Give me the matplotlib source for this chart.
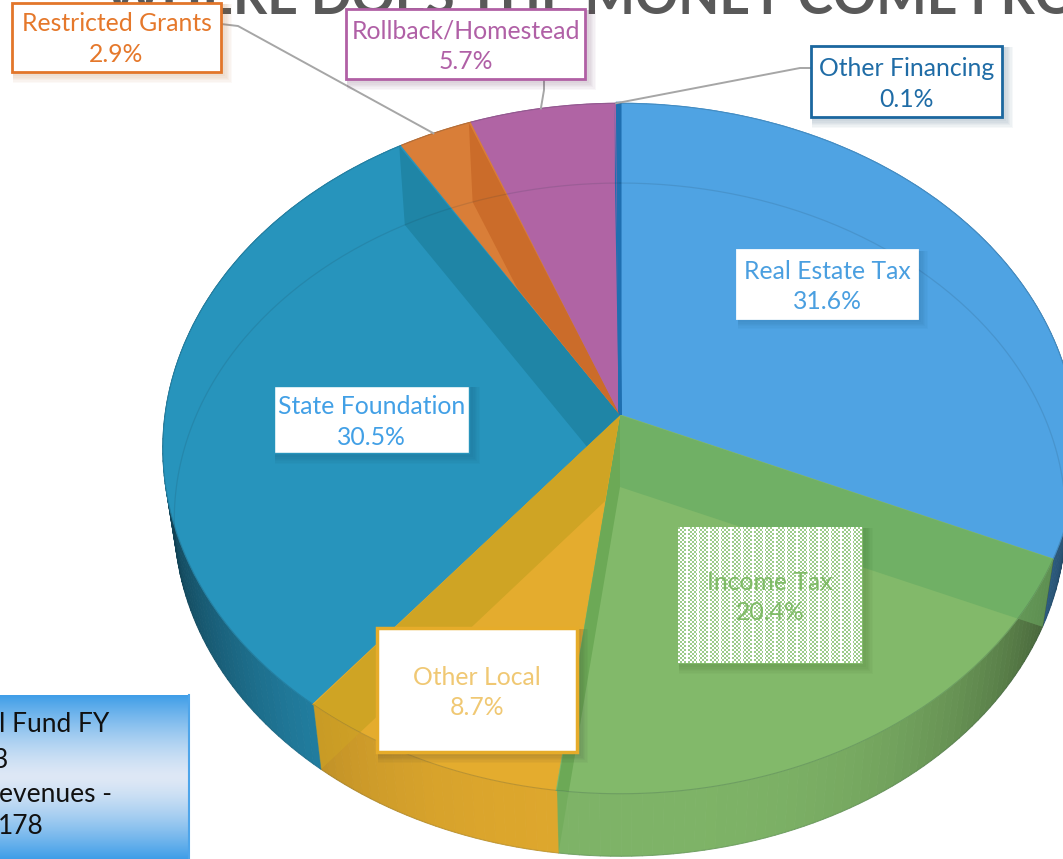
import numpy as np
import matplotlib
matplotlib.use("Agg")
import matplotlib.pyplot as plt
from matplotlib.transforms import Transform
from matplotlib.patches import Rectangle
from matplotlib.collections import PolyCollection
from matplotlib.colors import to_rgb

categories = ["Real Estate Tax", "Income Tax", "Other Local", "State Foundation",
              "Restricted Grants", "Rollback/Homestead", "Other Financing"]
shares = [31.6, 20.4, 8.7, 30.5, 2.9, 5.7, 0.1]
slice_colors = ["#4FA3E3", "#82B96A", "#E4AC2E", "#2794BC", "#D97E38", "#B064A4", "#1F6FB0"]
cut_colors = ["#70B065", "#6CA956", "#CFA424", "#1F85A6", "#CB6C2A", "#1F6FB0", "#1F6FB0"]
cut_owner = [1, 1, 2, 3, 4, 5, 5]
label_colors = ["#4A9FE0", "#7FBB66", "#F0C873", "#42A0E6", "#E5782B", "#B060A6", "#1F6CA6"]
title_text = "WHERE DOES THE MONEY COME FROM?"
legend_fragments = ["l Fund FY", "3", "evenues -", "178"]

LABEL_SIZE = 17.8
plt.rcParams['font.family'] = ['Lato', 'DejaVu Sans']


class Persp(Transform):
    input_dims = output_dims = 2
    is_separable = False
    has_inverse = False

    def __init__(self, cx, cy, a, b, k):
        super().__init__()
        self.p = (cx, cy, a, b, k)

    def transform_non_affine(self, xy):
        xy = np.asarray(xy, float)
        cx, cy, a, b, k = self.p
        d = 1 + k * xy[:, 1]
        return np.column_stack([cx + a * xy[:, 0] / d, cy - b * xy[:, 1] / d])


top_t = Persp(620, 415, 455, 342, 0.097)
low_t = Persp(620, 487, 455 * 0.975, 342 * 0.975, 0.097)

fig = plt.figure(figsize=(10.63, 8.59), dpi=100)
ax = fig.add_axes([0, 0, 1, 1])


def unit(pct):
    ang = np.deg2rad(np.asarray(pct) * 3.6)
    return np.column_stack([np.sin(ang), np.cos(ang)])


bounds = np.concatenate([[0], np.cumsum(shares)])

# outer side walls
polys, cols = [], []
for i, c in enumerate(slice_colors):
    base = np.array(to_rgb(c))
    ps = np.linspace(bounds[i], bounds[i + 1], max(int(shares[i] * 3), 2))
    uv = unit(ps)
    a, b = top_t.transform_non_affine(uv), low_t.transform_non_affine(uv)
    for j in range(len(ps) - 1):
        polys.append([a[j], a[j + 1], b[j + 1], b[j]])
        f = 0.97 * (1 - 0.55 * abs(uv[j, 0]) ** 3)
        cols.append(tuple(base * f))
ax.add_collection(PolyCollection(polys, facecolors=cols, edgecolors=cols, linewidths=0.6, zorder=2))

# top surface
top_wedges, _ = ax.pie(shares, startangle=90, counterclock=False, colors=slice_colors)
for w, c in zip(top_wedges, slice_colors):
    w.set_transform(top_t + ax.transData)
    w.set_zorder(3)
    w.set_edgecolor(c)
    w.set_linewidth(2.2 if c == slice_colors[-1] else 0.8)

# cut faces: seen through each slice's surface, and darkening the wall in front of it
origin = np.array([[0.0, 0.0]])
for i, c in enumerate(cut_colors):
    uv = unit([bounds[i + 1]])
    quad = np.vstack([top_t.transform_non_affine(origin), top_t.transform_non_affine(uv),
                      low_t.transform_non_affine(uv), low_t.transform_non_affine(origin)])
    ax.fill(quad[:, 0], quad[:, 1], color=c, lw=0, alpha=0.55, zorder=2.5)
    over, = ax.fill(quad[:, 0], quad[:, 1], color=c, lw=0, zorder=4)
    over.set_clip_path(top_wedges[cut_owner[i]])

# lower disc rim seen through the surface
rim = low_t.transform_non_affine(unit(np.linspace(0, 100, 361)))
ax.plot(rim[:, 0], rim[:, 1], color=(0.1, 0.2, 0.25, 0.13), lw=0.9, zorder=4.2)
edge = top_t.transform_non_affine(unit(np.linspace(0, 100, 361)))
ax.plot(edge[:, 0], edge[:, 1], color=(0.1, 0.2, 0.25, 0.2), lw=0.8, zorder=4.3)

# title
ax.text(105, 14, title_text, fontsize=38.5, fontweight='bold', color='#595959',
        ha='left', va='baseline', zorder=1, clip_on=True)


def box(x0, y0, x1, y1, text, color, edge, lw=2.0, z=6, shadow='#333333', pattern=False, ty=None):
    for g in range(1, 7):
        ax.add_patch(Rectangle((x0 + 1, y0 + 1), x1 - x0 + g * 1.3 + 2, y1 - y0 + g * 1.3 + 2,
                               fc=shadow, ec='none', alpha=0.035, zorder=z))
    ax.add_patch(Rectangle((x0, y0), x1 - x0, y1 - y0, fc='white', ec=edge, lw=lw, zorder=z + 0.1))
    if pattern:
        h, w = int(y1 - y0), int(x1 - x0)
        yy, xx = np.mgrid[0:h, 0:w]
        on = ((xx // 2 + yy // 2) % 2 == 0) & (xx % 11 != 8) & (xx % 11 != 9)
        tile = np.ones((h, w, 3))
        tile[on] = to_rgb('#9CCB8A')
        ax.imshow(tile, extent=(x0, x1, y1, y0), aspect='auto', interpolation='nearest', zorder=z + 0.2)
    cy = (y0 + y1) / 2 if ty is None else ty
    ax.text((x0 + x1) / 2, cy + 2.5, text, ha='center', va='center',
            color=color, fontsize=LABEL_SIZE, linespacing=1.4, zorder=z + 0.3)


def lab(i):
    return f"{categories[i]}\n{shares[i]:.1f}%"


def mid(i):
    return top_t.transform_non_affine(unit([(bounds[i] + bounds[i + 1]) / 2]))[0]


# leader lines
for i, head in [(4, [(221, 24), (238, 26)]), (5, [(544, 79), (544, 90)]), (6, [(810, 68), (800, 68)])]:
    m = mid(i)
    ax.plot([p[0] for p in head] + [m[0]], [p[1] for p in head] + [m[1]],
            color='#A6A6A6', lw=1.4, zorder=5)

box(737, 250, 917, 318, lab(0), label_colors[0], 'white', shadow='#16507a')
box(678, 527, 862, 663, lab(1), label_colors[1], '#82B96A', lw=0.8, shadow='#2e5a20', pattern=True)
box(377, 628, 577, 752, lab(2), label_colors[2], '#E6AC2A', lw=2.5)
box(274, 386, 469, 453, lab(3), label_colors[3], '#2794BC', lw=1.0, shadow='#0c4860')
box(12, 3, 221, 72, lab(4), label_colors[4], '#E2762A', shadow='#b06020', ty=36.5)
box(346, 9, 585, 79, lab(5), label_colors[5], '#B160A5', shadow='#5a2a55')
box(811, 46, 1002, 117, lab(6), label_colors[6], '#1B679F', shadow='#123f60')

# gradient note box
grad = np.abs(np.linspace(-1, 1, 256)).reshape(-1, 1)
c0, c1 = np.array(to_rgb('#DEE8F6')), np.array(to_rgb('#3F9EE8'))
img = c0[None, None, :] + (c1 - c0)[None, None, :] * (grad[:, :, None] ** 1.4)
ax.imshow(img, extent=(0, 190, 859, 695), aspect='auto', zorder=5, interpolation='bilinear')
ax.plot([189.3, 189.3], [695, 859], color='#4EA5EA', lw=1.5, zorder=5.1)
for s, x, y in zip(legend_fragments, [-1, -7, -1, -2], [725, 760, 794, 827]):
    ax.text(x, y, s, fontsize=19, color='#111111', ha='left', va='center', zorder=5.2)

ax.set_xlim(0, 1063)
ax.set_ylim(859, 0)
ax.set_aspect('auto')
ax.axis('off')
fig.savefig('out.png', dpi=100)
